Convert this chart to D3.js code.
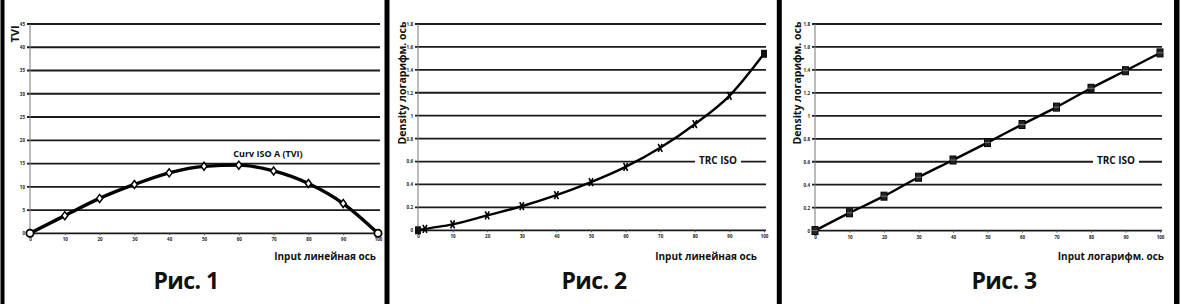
<!DOCTYPE html>
<html><head><meta charset="utf-8">
<script src="https://cdn.jsdelivr.net/npm/d3@7"></script>
<style>html,body{margin:0;padding:0;background:#fff;}svg{display:block;}text{font-family:"Open Sans","Noto Sans",sans-serif;}</style>
</head><body>
<svg id="c" width="1181" height="304"></svg>
<script>
// ---- data ----
const inputX = [0, 10, 20, 30, 40, 50, 60, 70, 80, 90, 100];
const tviValues = [0, 3.8, 7.5, 10.5, 13.0, 14.4, 14.65, 13.4, 10.7, 6.4, 0];
const trcLinX = [0, 2, 10, 20, 30, 40, 50, 60, 70, 80, 90, 100];
const trcLinValues = [0, 0.012, 0.052, 0.13, 0.21, 0.306, 0.42, 0.553, 0.72, 0.926, 1.173, 1.54];
const trcLogValues = [0, 0.155, 0.30, 0.465, 0.615, 0.767, 0.924, 1.076, 1.24, 1.393, 1.548];
const tviTicks = [0, 5, 10, 15, 20, 25, 30, 35, 40, 45];
const densityTicks = [0, 0.2, 0.4, 0.6, 0.8, 1, 1.2, 1.4, 1.6, 1.8];
const xTicks = [0, 10, 20, 30, 40, 50, 60, 70, 80, 90, 100];
const figLabels = ["Рис. 1", "Рис. 2", "Рис. 3"];
const yTitles = ["TVI", "Density логарифм. ось", "Density логарифм. ось"];
const xTitles = ["Input линейная ось", "Input линейная ось", "Input логарифм. ось"];
const curveLabels = ["Curv ISO A (TVI)", "TRC ISO", "TRC ISO"];

const svg = d3.select("#c");
svg.append("rect").attr("width",1181).attr("height",304).attr("fill","#fff");

const panels = [
  {x0:30, x1:378, y0:24, y1:233.3, dom:[0,45], ticks:tviTicks, xs:inputX, ys:tviValues, marker:"diamond", lw:3.4,
   ytx:15, yty:34, xtx:376, fig:186, lab:[268,157], labGap:[230,306], fmt:d=>d},
  {x0:418, x1:764, y0:24, y1:230.3, dom:[0,1.8], ticks:densityTicks, xs:trcLinX, ys:trcLinValues, marker:"cross", lw:2.4,
   ytx:402, yty:83, xtx:757, fig:594, lab:[718,164], labGap:[695,741], fmt:d=>d},
  {x0:815, x1:1160, y0:24, y1:230.6, dom:[0,1.8], ticks:densityTicks, xs:inputX, ys:trcLogValues, marker:"square", lw:2.4,
   ytx:797, yty:83, xtx:1164, fig:1004, lab:[1116,164], labGap:[1093,1139], fmt:d=>d}
];

panels.forEach((p,i)=>{
  const x = d3.scaleLinear().domain([0,100]).range([p.x0,p.x1]);
  const y = d3.scaleLinear().domain(p.dom).range([p.y1,p.y0]);
  const g = svg.append("g");
  // gridlines
  g.selectAll("line.grid").data(p.ticks).join("line")
    .attr("x1",p.x0-3).attr("x2",p.x1+2)
    .attr("y1",d=>y(d)).attr("y2",d=>y(d))
    .attr("stroke","#1a1a1a").attr("stroke-width",1.8);
  // y axis vertical
  g.append("line").attr("x1",p.x0).attr("x2",p.x0).attr("y1",p.y0).attr("y2",p.y1)
    .attr("stroke","#777").attr("stroke-width",1);
  // y tick labels
  const yAxis = d3.axisLeft(y).tickValues(p.ticks).tickSize(0).tickPadding(5).tickFormat(p.fmt);
  const ya = g.append("g").attr("transform",`translate(${p.x0},0)`).call(yAxis);
  ya.select(".domain").remove();
  ya.selectAll("text").attr("font-size",4.5).attr("font-weight",700).attr("fill","#222");
  // x tick labels
  const xAxis = d3.axisBottom(x).tickValues(xTicks).tickSize(2).tickPadding(3);
  const xa = g.append("g").attr("transform",`translate(0,${p.y1})`).call(xAxis);
  xa.select(".domain").remove();
  xa.selectAll("line").attr("stroke","#555");
  xa.selectAll("text").attr("font-size",4.5).attr("font-weight",700).attr("fill","#222");
  // curve label with white gap
  g.append("rect").attr("x",p.labGap[0]).attr("y",p.lab[1]-10).attr("width",p.labGap[1]-p.labGap[0]).attr("height",13).attr("fill","#fff");
  g.append("text").attr("x",p.lab[0]).attr("y",p.lab[1]).attr("text-anchor","middle")
    .attr("font-size",i===0?9:10).attr("font-weight",700).attr("fill","#111").text(curveLabels[i]);
  // curve
  const pts = p.xs.map((v,k)=>[v,p.ys[k]]);
  const line = d3.line().x(d=>x(d[0])).y(d=>y(d[1])).curve(d3.curveMonotoneX);
  g.append("path").attr("d",line(pts)).attr("fill","none").attr("stroke","#000").attr("stroke-width",p.lw)
    .attr("stroke-linejoin","round");
  // markers
  pts.forEach((d,k)=>{
    const cx = x(d[0]), cy = y(d[1]);
    const last = k===pts.length-1, first = k===0;
    if (p.marker==="diamond") {
      if (first||last) {
        g.append("circle").attr("cx",cx).attr("cy",cy).attr("r",3.6).attr("fill","#fff").attr("stroke","#000").attr("stroke-width",1.8);
      } else {
        g.append("path").attr("d",`M${cx},${cy-4}L${cx+3},${cy}L${cx},${cy+4}L${cx-3},${cy}Z`)
          .attr("fill","#fff").attr("stroke","#000").attr("stroke-width",1.5);
      }
    } else if (p.marker==="cross") {
      if (first||last) {
        g.append("rect").attr("x",cx-3).attr("y",cy-4).attr("width",6).attr("height",8).attr("fill","#111");
      } else {
        g.append("path").attr("d",`M${cx-2},${cy-4}L${cx+2},${cy+4}M${cx+2},${cy-4}L${cx-2},${cy+4}`)
          .attr("stroke","#000").attr("stroke-width",1.6);
      }
    } else {
      g.append("rect").attr("x",cx-3).attr("y",cy-4).attr("width",6).attr("height",8)
        .attr("fill","#222").attr("stroke","#000").attr("stroke-width",1);
      g.append("line").attr("x1",cx-3).attr("x2",cx+3).attr("y1",cy).attr("y2",cy).attr("stroke","#888").attr("stroke-width",0.8);
    }
  });
  // y title
  g.append("text").attr("transform",`translate(${p.ytx},${p.yty}) rotate(-90)`).attr("text-anchor","middle")
    .attr("dy","0.35em").attr("font-size",i===0?11:10.5).attr("font-weight",700).attr("fill","#111").text(yTitles[i]);
  // x title
  g.append("text").attr("x",p.xtx).attr("y",260).attr("text-anchor","end")
    .attr("font-size",10).attr("font-weight",700).attr("fill","#111").text(xTitles[i]);
  // figure label
  g.append("text").attr("x",p.fig).attr("y",289).attr("text-anchor","middle")
    .attr("font-size",23).attr("font-weight",700).attr("fill","#111").attr("letter-spacing",-0.6).text(figLabels[i]);
});

// panel borders
const bars = [[0.5,4],[384.5,5],[776.8,5],[1174,5.5]];
svg.selectAll("rect.bar").data(bars).join("rect").attr("x",d=>d[0]).attr("y",0).attr("width",d=>d[1]).attr("height",304).attr("fill","#000");
</script>
</body></html>
